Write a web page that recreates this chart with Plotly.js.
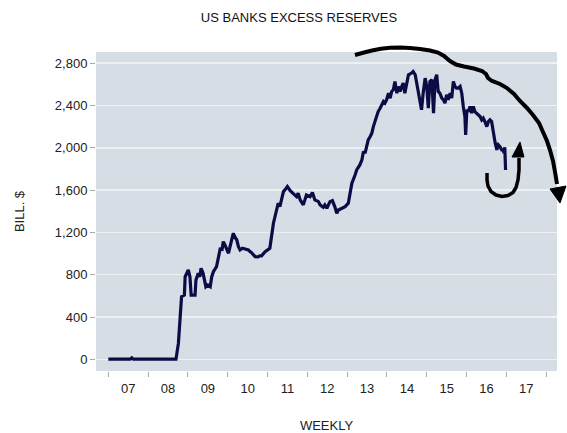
<!DOCTYPE html>
<html>
<head>
<meta charset="utf-8">
<script src="https://cdn.plot.ly/plotly-3.0.1.min.js"></script>
<style>html,body{margin:0;padding:0;background:#fff;}#chart{width:567px;height:433px;}</style>
</head>
<body>
<div id="chart"></div>
<script>
// Weekly observations, as decimal years, and excess reserves in billions of dollars
const obsYears = [
  2007.00, 2007.20, 2007.40, 2007.55, 2007.59, 2007.63, 2007.80, 2008.00, 2008.30, 2008.50, 2008.70,
  2008.76, 2008.80, 2008.84, 2008.91, 2008.93, 2009.01, 2009.05, 2009.08, 2009.18, 2009.20,
  2009.26, 2009.30, 2009.33, 2009.38, 2009.45, 2009.50, 2009.56, 2009.60, 2009.64, 2009.72,
  2009.76, 2009.81, 2009.86, 2009.89, 2009.93, 2009.97, 2010.02, 2010.06, 2010.14, 2010.18,
  2010.23, 2010.27, 2010.31, 2010.37, 2010.43, 2010.52, 2010.56, 2010.60, 2010.69, 2010.76,
  2010.81, 2010.85, 2010.94, 2011.02, 2011.06, 2011.15, 2011.23, 2011.27, 2011.31, 2011.36,
  2011.40, 2011.44, 2011.50, 2011.57, 2011.65, 2011.73, 2011.77, 2011.82, 2011.90, 2011.94,
  2011.98, 2012.07, 2012.13, 2012.19, 2012.28, 2012.32, 2012.40, 2012.44, 2012.49, 2012.57,
  2012.63, 2012.69, 2012.74, 2012.78, 2012.86, 2012.95, 2013.03, 2013.07, 2013.12, 2013.20,
  2013.24, 2013.32, 2013.37, 2013.41, 2013.45, 2013.49, 2013.53, 2013.58, 2013.62, 2013.66,
  2013.70, 2013.74, 2013.78, 2013.83, 2013.87, 2013.91, 2013.95, 2013.99, 2014.04, 2014.08,
  2014.12, 2014.16, 2014.20, 2014.25, 2014.29, 2014.33, 2014.37, 2014.41, 2014.45, 2014.54,
  2014.62, 2014.66, 2014.71, 2014.75, 2014.83, 2014.87, 2014.91, 2014.96, 2015.00, 2015.04,
  2015.08, 2015.13, 2015.17, 2015.21, 2015.25, 2015.29, 2015.33, 2015.38, 2015.42, 2015.46,
  2015.50, 2015.54, 2015.59, 2015.63, 2015.67, 2015.71, 2015.75, 2015.79, 2015.84, 2015.88,
  2015.92, 2015.96, 2015.98, 2016.01, 2016.05, 2016.09, 2016.13, 2016.17, 2016.21, 2016.26,
  2016.30, 2016.34, 2016.38, 2016.42, 2016.46, 2016.51, 2016.55, 2016.59, 2016.63, 2016.67,
  2016.72, 2016.76, 2016.80, 2016.84, 2016.88, 2016.92, 2016.94, 2016.96, 2016.98
];
const excessReserves = [
  2, 2, 2, 2, 14, 2, 2, 2, 2, 2, 2,
  151, 372, 592, 608, 781, 845, 781, 608, 608, 750,
  813, 781, 861, 816, 687, 703, 687, 781, 829, 876,
  955, 1043, 1040, 1113, 1081, 1040, 1003, 1065, 1192, 1157,
  1128, 1065, 1034, 1050, 1043, 1034, 1018, 1008, 971, 968,
  978, 978, 1018, 1034, 1050, 1287, 1428, 1476, 1444, 1507,
  1586, 1602, 1633, 1595, 1570, 1538, 1570, 1507, 1460, 1507,
  1554, 1538, 1576, 1507, 1491, 1460, 1438, 1460, 1428, 1491,
  1501, 1444, 1381, 1412, 1428, 1444, 1476, 1570, 1665, 1744,
  1791, 1838, 1886, 1964, 1949, 2011, 2075, 2106, 2138, 2200,
  2248, 2295, 2342, 2374, 2406, 2437, 2422, 2453, 2516, 2469,
  2532, 2548, 2626, 2516, 2579, 2532, 2579, 2611, 2516, 2690,
  2706, 2721, 2690, 2611, 2453, 2359, 2516, 2658, 2579, 2374,
  2626, 2642, 2327, 2642, 2690, 2532, 2516, 2469, 2453, 2422,
  2500, 2453, 2516, 2469, 2626, 2579, 2563, 2563, 2579, 2516,
  2390, 2295, 2122, 2359, 2342, 2390, 2327, 2390, 2342, 2327,
  2311, 2295, 2264, 2280, 2248, 2200, 2248, 2264, 2248, 2138,
  2043, 1980, 2027, 2011, 1980, 1980, 1950, 2005, 1790
];
const yTickValues = [0, 400, 800, 1200, 1600, 2000, 2400, 2800];
const chartTitle = 'US BANKS EXCESS RESERVES';
const xAxisTitle = 'WEEKLY';
const yAxisTitle = 'BILL. $';

function yearToDate(v) {
  const y = Math.floor(v);
  const s = Date.UTC(y, 0, 1), e = Date.UTC(y + 1, 0, 1);
  return new Date(s + (v - y) * (e - s)).toISOString().slice(0, 10);
}
const obsDates = obsYears.map(yearToDate);

// Layout geometry (pixels)
const W = 567, H = 433, M = {l: 96, r: 10, t: 52, b: 62};
const pw = W - M.l - M.r, ph = H - M.t - M.b;
function P(pts) { // pixel points -> paper-coord path
  return pts.map((p, i) => (i ? 'L' : 'M') + ((p[0] - M.l) / pw).toFixed(4) + ',' + ((H - M.b - p[1]) / ph).toFixed(4)).join(' ');
}
const bigArc = [[355,55],[364,52.5],[372,50.5],[381,48.8],[390,47.8],[400,47.6],[410,48],[420,49],[430,50.5],[438,52.5],[444,56],[450,61],[456,64.5],[464,66.5],[474,68.5],[482,71],[486,74],[488,78],[492,81],[500,84],[507,88],[514,94],[520,101],[527,108],[533,115],[539,123],[543,132],[547,141],[550,150],[553,161],[555,172],[557,184]];
const bigHead = [[550,189],[566,186],[560,203],[550,189]];
const hook = [[487,173],[487,180],[488,186],[491,191.5],[496,195],[502,196.5],[508,195.5],[513,192.5],[516,187.5],[518,180],[519,170],[519,158]];
const hookHead = [[512,157],[524,157],[520,142],[512,157]];

const shapes = [
  {type: 'path', xref: 'paper', yref: 'paper', path: P(bigArc), line: {color: '#000', width: 4}},
  {type: 'path', xref: 'paper', yref: 'paper', path: P(bigHead) + ' Z', fillcolor: '#000', line: {color: '#000', width: 1}},
  {type: 'path', xref: 'paper', yref: 'paper', path: P(hook), line: {color: '#000', width: 3.5}},
  {type: 'path', xref: 'paper', yref: 'paper', path: P(hookHead) + ' Z', fillcolor: '#000', line: {color: '#000', width: 1}}
];

const font = 'Liberation Sans, Arial, sans-serif';
Plotly.newPlot('chart', [{
  x: obsDates, y: excessReserves, type: 'scatter', mode: 'lines',
  line: {color: '#0b0b45', width: 3.2}, hoverinfo: 'skip'
}], {
  width: W, height: H,
  margin: M,
  paper_bgcolor: '#ffffff', plot_bgcolor: '#d6dde5',
  font: {family: font, size: 13, color: '#222'},
  title: {text: chartTitle, x: 299 / W, xanchor: 'center', xref: 'container', y: 1 - 17 / H, yanchor: 'middle', yref: 'container', font: {family: font, size: 13, color: '#111'}},
  showlegend: false,
  xaxis: {
    type: 'date', range: ['2006-09-10', '2018-04-10'],
    tick0: '2007-01-01', dtick: 'M12', tickformat: '%y', ticklabelmode: 'period',
    ticks: 'outside', ticklen: 5, tickwidth: 1, tickcolor: '#aaa',
    showgrid: false, zeroline: false, showline: false,
    tickfont: {family: font, size: 13, color: '#222'},
    title: {text: xAxisTitle, standoff: 27, font: {family: font, size: 13, color: '#222'}}
  },
  yaxis: {
    range: [-110, 2905], tickvals: yTickValues, tickformat: ',d',
    ticks: 'outside', ticklen: 5, tickwidth: 1, tickcolor: '#aaa',
    showgrid: true, gridcolor: '#eef1f4', gridwidth: 1.5, zeroline: false, showline: false,
    tickfont: {family: font, size: 13, color: '#222'},
    title: {text: yAxisTitle, standoff: 27, font: {family: font, size: 13, color: '#222'}}
  },
  shapes: shapes
}, {displayModeBar: false, staticPlot: true});
</script>
</body>
</html>
